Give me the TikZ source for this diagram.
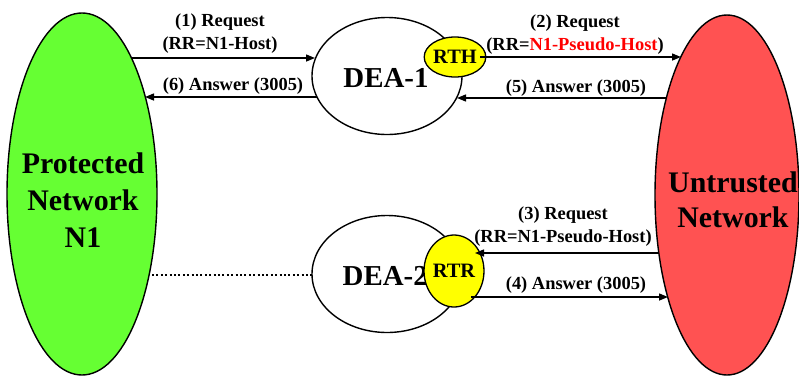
\documentclass[tikz,border=0pt]{standalone}
\usepackage{fontspec}
\setmainfont{Liberation Serif}
\usetikzlibrary{arrows.meta,shapes.geometric}
\definecolor{netgreen}{RGB}{102,255,51}
\definecolor{netred}{RGB}{255,82,82}
\definecolor{rtyellow}{RGB}{255,255,0}
\definecolor{hostred}{RGB}{255,0,0}
\tikzset{
  netw/.style={ellipse, draw=black, line width=1.4bp, inner sep=0pt},
  dea/.style={ellipse, draw=black, line width=1.4bp, fill=white, inner sep=0pt},
  rt/.style={ellipse, draw=black, line width=1.3bp, fill=rtyellow, inner sep=0pt,
    font=\fontsize{20.5}{22}\selectfont\bfseries},
  lab/.style={inner sep=0pt, font=\fontsize{18.5}{22}\selectfont\bfseries},
  big/.style={inner sep=0pt, align=center, font=\fontsize{30}{37}\selectfont\bfseries},
  deatext/.style={inner sep=0pt, font=\fontsize{29}{34}\selectfont\bfseries},
  msg/.style={line width=1.4bp, -{Triangle[length=9bp,width=7bp]}},
}
\begin{document}
\begin{tikzpicture}[x=1bp,y=-1bp]
\useasboundingbox (0,0) rectangle (799,376);
% networks
\node[netw, fill=netgreen, minimum width=150bp, minimum height=362bp] (pn) at (82,194) {};
\node[netw, fill=netred, minimum width=144bp, minimum height=360bp] (un) at (727,195) {};
\node[big] (pnt) at (83,200) {Protected\\Network\\N1};
\node[big, font=\fontsize{30}{35}\selectfont\bfseries] (unt) at (733,200) {Untrusted\\Network};
% DEAs
\node[dea, minimum width=150bp, minimum height=117bp] (d1) at (387,76) {};
\node[dea, minimum width=150bp, minimum height=117bp] (d2) at (387,274) {};
\node[deatext] (d1t) at (386,78) {DEA-1};
\node[deatext, anchor=east] (d2t) at (428,276) {DEA-2};
\node[rt, minimum width=50bp, minimum height=40bp] (rth) at (455,57) {RTH};
\node[rt, minimum width=46bp, minimum height=72bp] (rtr) at (454,271) {RTR};
% connector end points on the borders
\coordinate (a1s) at (131,58);  \coordinate (a1e) at (315,58);
\coordinate (a6s) at (317,97);  \coordinate (a6e) at (145,97);
\coordinate (a2s) at (480,57);  \coordinate (a2e) at (681,57);
\coordinate (a5s) at (666,98);  \coordinate (a5e) at (457,98);
\coordinate (a3s) at (659,253); \coordinate (a3e) at (475,253);
\coordinate (a4s) at (471,297); \coordinate (a4e) at (668,297);
\coordinate (dts) at (152,275); \coordinate (dte) at (312,275);
\draw[msg] (a1s) -- (a1e);
\draw[msg] (a6s) -- (a6e);
\draw[msg] (a2s) -- (a2e);
\draw[msg] (a5s) -- (a5e);
\draw[msg] (a3s) -- (a3e);
\draw[msg] (a4s) -- (a4e);
\draw[line width=2bp, dash pattern=on 2bp off 2.4bp] (dts) -- (dte);
% labels
\node[lab] (l1a) at (220,22) {(1) Request};
\node[lab] (l1b) at (220,45) {(RR=N1-Host)};
\node[lab] (l6) at (233,86) {(6) Answer (3005)};
\node[lab] (l2a) at (575,23) {(2) Request};
\node[lab] (l2b) at (575,46) {(RR=\textcolor{hostred}{N1-Pseudo-Host})};
\node[lab] (l5) at (576,88) {(5) Answer (3005)};
\node[lab] (l3a) at (563,215) {(3) Request};
\node[lab] (l3b) at (563,238) {(RR=N1-Pseudo-Host)};
\node[lab] (l4) at (576,285) {(4) Answer (3005)};
\end{tikzpicture}
\end{document}
